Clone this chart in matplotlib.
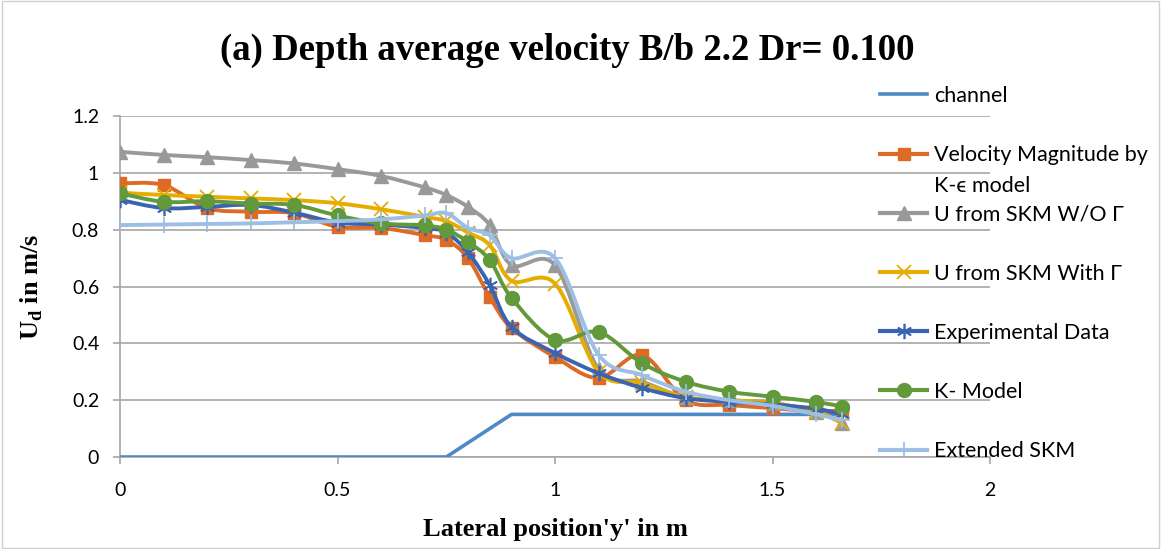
import matplotlib
matplotlib.use("Agg")
import matplotlib.pyplot as plt
from matplotlib.path import Path
from matplotlib.patches import PathPatch, Rectangle
from matplotlib.lines import Line2D

# lateral positions (m)
x_pts = [0, 0.1, 0.2, 0.3, 0.4, 0.5, 0.6, 0.7, 0.75, 0.8, 0.85, 0.9, 1.0, 1.1,
         1.2, 1.3, 1.4, 1.5, 1.6, 1.66]

# channel bed profile
channel_x = [0, 0.75, 0.9, 1.66]
channel_y = [0, 0, 0.15, 0.15]

k_eps = [0.963, 0.957, 0.876, 0.863, 0.858, 0.81, 0.806, 0.781, 0.764, 0.70,
         0.563, 0.454, 0.352, 0.278, 0.359, 0.20, 0.183, 0.172, 0.16, 0.165]
skm_wo = [1.074, 1.063, 1.055, 1.045, 1.033, 1.013, 0.989, 0.949, 0.922, 0.88,
          0.816, 0.675, 0.675, 0.31, 0.265, 0.21, 0.20, 0.19, 0.16, 0.12]
skm_with = [0.93, 0.922, 0.916, 0.91, 0.904, 0.893, 0.872, 0.845, 0.83, 0.79,
            0.745, 0.62, 0.61, 0.30, 0.26, 0.21, 0.20, 0.19, 0.16, 0.12]
experimental = [0.905, 0.876, 0.88, 0.887, 0.86, 0.825, 0.818, 0.806, 0.79, 0.72,
                0.605, 0.457, 0.366, 0.295, 0.243, 0.207, 0.194, 0.185, 0.17, 0.15]
k_model = [0.928, 0.898, 0.90, 0.892, 0.887, 0.85, 0.822, 0.815, 0.80, 0.757,
           0.693, 0.56, 0.412, 0.44, 0.33, 0.265, 0.23, 0.212, 0.194, 0.177]
ext_skm = [0.816, 0.818, 0.82, 0.822, 0.826, 0.83, 0.836, 0.85, 0.858, 0.806,
           0.78, 0.70, 0.70, 0.36, 0.288, 0.23, 0.20, 0.18, 0.15, 0.13]

labels = ['channel', 'Velocity Magnitude by', 'U from SKM W/O \u0393',
          'U from SKM With \u0393', 'Experimental Data', 'K- Model', 'Extended SKM']

plt.rcParams['font.family'] = ['Lato', 'DejaVu Sans']
plt.rcParams['mathtext.fontset'] = 'custom'
plt.rcParams['mathtext.rm'] = 'Liberation Serif:bold'
plt.rcParams['mathtext.bf'] = 'Liberation Serif:bold'


def smooth_path(xs, ys):
    # Excel-like smoothed line: cubic bezier through the points
    verts = [(xs[0], ys[0])]
    codes = [Path.MOVETO]
    n = len(xs)
    for i in range(n - 1):
        x0, y0 = (xs[i - 1], ys[i - 1]) if i > 0 else (xs[i], ys[i])
        x1, y1 = xs[i], ys[i]
        x2, y2 = xs[i + 1], ys[i + 1]
        x3, y3 = (xs[i + 2], ys[i + 2]) if i + 2 < n else (x2, y2)
        c1 = (x1 + (x2 - x0) / 6, y1 + (y2 - y0) / 6)
        c2 = (x2 - (x3 - x1) / 6, y2 - (y3 - y1) / 6)
        verts += [c1, c2, (x2, y2)]
        codes += [Path.CURVE4] * 3
    return Path(verts, codes)


fig = plt.figure(figsize=(11.61, 5.49), dpi=100)
ax = fig.add_axes([120 / 1161, 92 / 549, 870 / 1161, 341 / 549])

grid_c = '#a6a6a6'
ax.set_xlim(0, 2)
ax.set_ylim(0, 1.2)
ax.set_xticks([0, 0.5, 1, 1.5, 2])
ax.set_xticklabels(['0', '0.5', '1', '1.5', '2'])
ax.set_yticks([0, 0.2, 0.4, 0.6, 0.8, 1, 1.2])
ax.set_yticklabels(['0', '0.2', '0.4', '0.6', '0.8', '1', '1.2'])
ax.yaxis.grid(True, color=grid_c, lw=1.2)
ax.set_axisbelow(True)
for s in ['top', 'right']:
    ax.spines[s].set_visible(False)
for s in ['left', 'bottom']:
    ax.spines[s].set_color(grid_c)
    ax.spines[s].set_linewidth(1.2)
ax.tick_params(colors=grid_c, length=5, width=1.2, labelcolor='black', labelsize=14)
ax.tick_params(axis='x', pad=13)
ax.tick_params(axis='y', pad=10)

handles = []
ch, = ax.plot(channel_x, channel_y, color='#4e8ac6', lw=2.6, zorder=3)
handles.append(ch)

series = [
    (k_eps, '#dd6b26', 's', 9, 1.0),
    (skm_wo, '#999999', '^', 10, 1.0),
    (skm_with, '#e6ac00', 'x', 10, 1.3),
    (experimental, '#3b64b0', (6, 2, 0), 11, 1.2),
    (k_model, '#61993b', 'o', 10, 1.0),
    (ext_skm, '#9dbfe3', '+', 12, 1.3),
]
z = 4
for ys, col, mk, ms, mew in series:
    ax.add_patch(PathPatch(smooth_path(x_pts, ys), fill=False, edgecolor=col,
                           lw=2.8, zorder=z, capstyle='round', joinstyle='round'))
    ax.plot(x_pts, ys, linestyle='none', marker=mk, ms=ms, color=col, mec=col,
            mew=mew, zorder=z + 0.5)
    handles.append(Line2D([], [], color=col, lw=3, marker=mk, ms=ms, mec=col, mew=mew))
    z += 1

leg_fs = 15.5
leg = ax.legend(handles, labels, loc='upper left', bbox_to_anchor=(880 / 1161, 1 - 86 / 549),
                bbox_transform=fig.transFigure, frameon=False, fontsize=leg_fs,
                handlelength=2.2, handletextpad=0.3, labelspacing=1.82, borderpad=0,
                borderaxespad=0)

fig.suptitle('(a) Depth average velocity B/b 2.2 Dr= 0.100', x=0.489, y=0.94,
             fontsize=26.5, fontweight='bold', family='Liberation Serif')
ax.set_xlabel("Lateral position'y' in m", fontsize=19, fontweight='bold',
              family='Liberation Serif', labelpad=14)
ax.set_ylabel(r'U$_{\mathrm{d}}$ in m/s', fontsize=19, fontweight='bold',
              family='Liberation Serif', labelpad=19)

# second line of the K-epsilon legend label
fig.canvas.draw()
t = leg.get_texts()[1]
bb = t.get_window_extent()
fig.text(bb.x0, bb.y0 - 31, 'K-\u03f5 model', fontsize=leg_fs, family=['Lato', 'DejaVu Sans'],
         transform=None, va='bottom', ha='left')

fig.add_artist(Rectangle((0.002, 0.002), 0.996, 0.996, transform=fig.transFigure,
                         fill=False, edgecolor='#d0d0d0', lw=1))

fig.savefig('out.png', dpi=100)
